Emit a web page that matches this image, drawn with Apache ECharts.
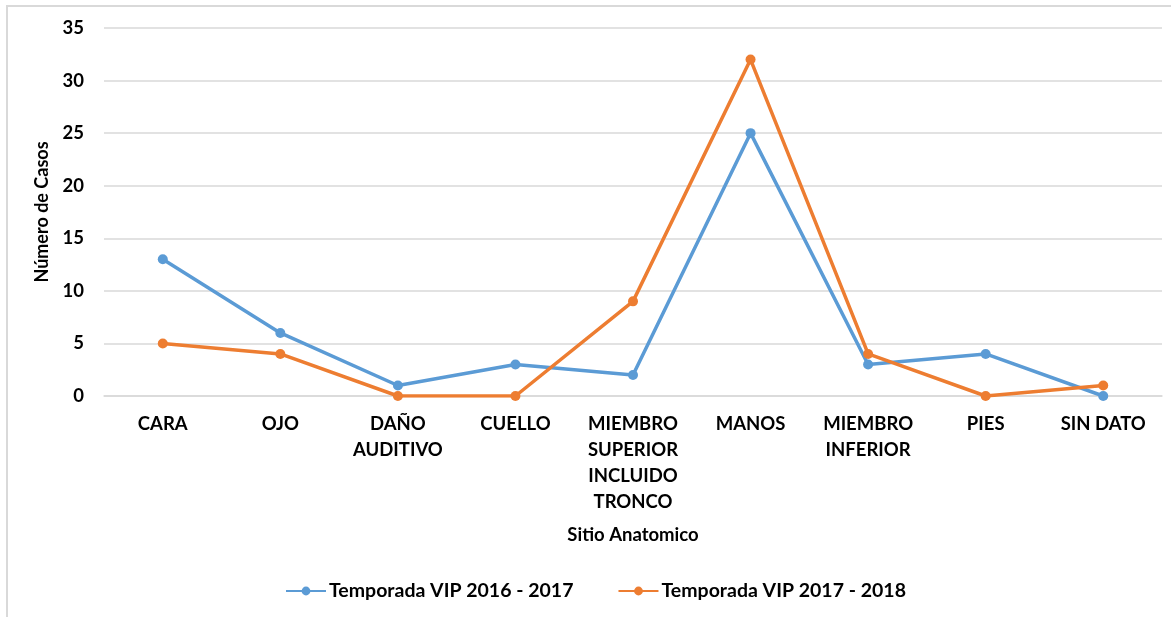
<!DOCTYPE html>
<html style="height: 100%">
<head>
<meta charset="utf-8">
<script src="https://cdn.jsdelivr.net/npm/echarts@6/dist/echarts.min.js"></script>
</head>
<body style="height: 100%; margin: 0; background: #fff">
<div style="position:absolute;left:6px;top:5px;width:1200px;height:700px;border:2px solid #d9d9d9;box-sizing:border-box"></div>
<div id="container" style="position:absolute;left:0;top:0;width:1171px;height:617px"></div>
<script type="text/javascript">
var categories = ["CARA", "OJO", "DAÑO\nAUDITIVO", "CUELLO", "MIEMBRO\nSUPERIOR\nINCLUIDO\nTRONCO", "MANOS", "MIEMBRO\nINFERIOR", "PIES", "SIN DATO"];
var serie2016 = [13, 6, 1, 3, 2, 25, 3, 4, 0];
var serie2018 = [5, 4, 0, 0, 9, 32, 4, 0, 1];
var names = ["Temporada VIP 2016 - 2017", "Temporada VIP 2017 - 2018"];

var font = "Lato, 'Open Sans', sans-serif";
var myChart = echarts.init(document.getElementById("container"));
var option = {
    animation: false,
    textStyle: { fontFamily: font },
    grid: { left: 104, right: 9, top: 28, bottom: 221, containLabel: false },
    legend: {
        bottom: 11,
        left: 280,
        itemWidth: 40,
        itemHeight: 11,
        itemGap: 44,
        textStyle: { fontFamily: font, fontWeight: 'bold', fontSize: 19.5, color: '#000', padding: [0, 0, 0, -2] },
        data: names
    },
    xAxis: {
        type: 'category',
        data: categories,
        name: 'Sitio Anatomico',
        nameLocation: 'middle',
        nameGap: 130,
        nameTextStyle: { fontFamily: font, fontWeight: 'bold', fontSize: 18.5, color: '#000' },
        axisLine: { lineStyle: { color: '#d9d9d9', width: 1.5 } },
        axisTick: { show: false },
        axisLabel: { interval: 0, margin: 15, fontFamily: font, fontWeight: 'bold', fontSize: 18.5, lineHeight: 26, color: '#000' }
    },
    yAxis: {
        type: 'value',
        min: 0, max: 35, interval: 5,
        name: 'Número de Casos',
        nameLocation: 'middle',
        nameGap: 51,
        nameTextStyle: { fontFamily: font, fontWeight: 'bold', fontSize: 18, color: '#000' },
        axisLabel: { margin: 20, fontFamily: font, fontWeight: 'bold', fontSize: 18.5, color: '#000' },
        splitLine: { lineStyle: { color: '#d9d9d9', width: 1.5 } }
    },
    series: [
        {
            name: names[0], type: 'line', data: serie2016,
            symbol: 'circle', symbolSize: 10,
            itemStyle: { color: '#5B9BD5' },
            lineStyle: { color: '#5B9BD5', width: 3.5 }
        },
        {
            name: names[1], type: 'line', data: serie2018,
            symbol: 'circle', symbolSize: 10,
            itemStyle: { color: '#ED7D31' },
            lineStyle: { color: '#ED7D31', width: 3.5 }
        }
    ]
};
myChart.setOption(option, true);
</script>
</body>
</html>
